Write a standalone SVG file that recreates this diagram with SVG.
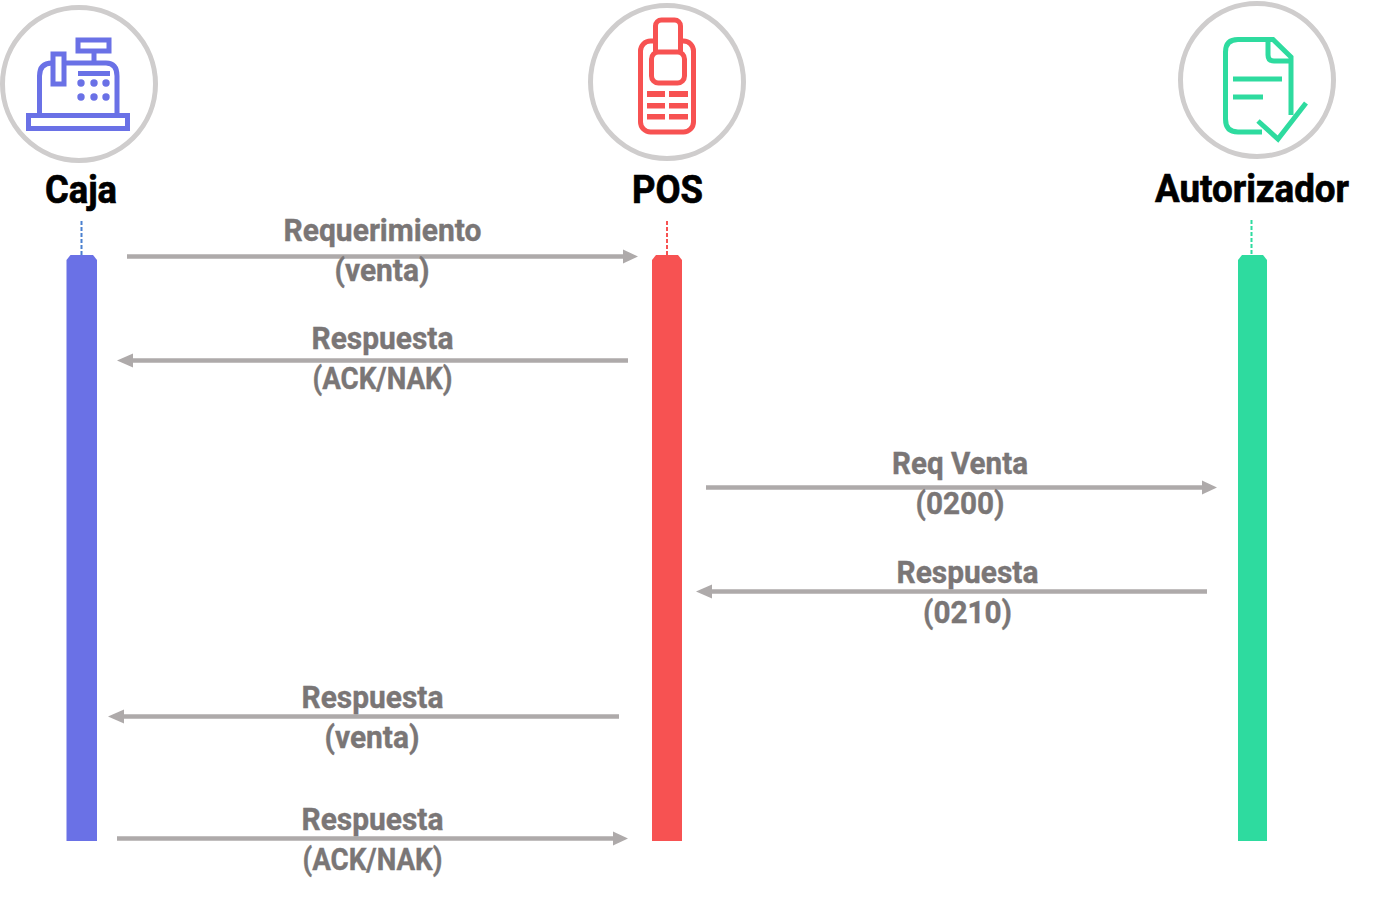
<svg xmlns="http://www.w3.org/2000/svg" width="1374" height="898" viewBox="0 0 1374 898">
<defs>
<style>
text{font-family:Roboto,"Liberation Sans",sans-serif;font-weight:700;text-anchor:middle}
.t{font-size:39px;fill:#000;stroke:#000;stroke-width:.7}
.l{font-size:32px;fill:#7a7676;stroke:#7a7676;stroke-width:.4}
.ring{fill:#fff;stroke:#cfcdcd;stroke-width:5}
.a{stroke:#aeaaaa;stroke-width:4.500;fill:none}
.h{fill:#aeaaaa}
.b{fill:none;stroke:#6a71e6;stroke-width:5}
.r{fill:none;stroke:#f75252;stroke-width:5}
.g{fill:none;stroke:#2edb9f;stroke-width:5}
</style>
</defs>
<rect width="1374" height="898" fill="#fff"/>
<g id="caja">
<circle class="ring" cx="79" cy="84" r="76.500"/>
<rect class="b" x="78" y="40" width="31" height="11"/>
<path class="b" d="M94 52V63M39.500 114V76Q39.500 63 52 63H106Q117 63 117 76V114"/>
<rect x="53" y="54" width="11" height="30" fill="#fff" stroke="#6a71e6" stroke-width="5"/>
<rect x="78" y="71" width="32" height="5" fill="#6a71e6"/>
<g fill="#6a71e6"><circle cx="81" cy="83" r="3.700"/><circle cx="94" cy="83" r="3.700"/><circle cx="106" cy="83" r="3.700"/><circle cx="81" cy="97" r="3.700"/><circle cx="94" cy="97" r="3.700"/><circle cx="106" cy="97" r="3.700"/></g>
<rect class="b" x="28.500" y="115.500" width="99" height="13"/>
<text class="t" x="81" y="203" textLength="72" lengthAdjust="spacingAndGlyphs">Caja</text>
<path d="M81.500 221V256" stroke="#4a80d0" stroke-width="2" stroke-dasharray="4 2" fill="none"/>
<path d="M66.500 841V260L70.500 255H93L97 260V841Z" fill="#6a71e6"/>
</g>
<g id="pos">
<circle class="ring" cx="667" cy="82" r="76.500"/>
<rect class="r" x="640.500" y="41" width="53" height="91" rx="10"/>
<rect x="655.500" y="20" width="25" height="50" rx="6" fill="#fff" stroke="#f75252" stroke-width="5"/>
<rect x="651.500" y="52" width="33" height="31" rx="7" fill="#fff" stroke="#f75252" stroke-width="5"/>
<g fill="#f75252"><rect x="647" y="91" width="18" height="6"/><rect x="669" y="91" width="19" height="6"/><rect x="647" y="103" width="18" height="5.500"/><rect x="669" y="103" width="19" height="5.500"/><rect x="647" y="114" width="18" height="5.500"/><rect x="669" y="114" width="19" height="5.500"/></g>
<text class="t" x="667.500" y="203" textLength="71" lengthAdjust="spacingAndGlyphs">POS</text>
<path d="M667 221V256" stroke="#f75252" stroke-width="2" stroke-dasharray="4 2" fill="none"/>
<path d="M652 841V260L656 255H678L682 260V841Z" fill="#f75252"/>
</g>
<g id="autorizador">
<circle class="ring" cx="1257" cy="80" r="76.500"/>
<path class="g" d="M1262 132H1238Q1225.500 132 1225.500 119V52Q1225.500 39.500 1238 39.500H1273L1291 57V115M1268 39.500V55Q1268 61 1274 61H1291"/>
<path class="g" d="M1233 79H1282M1233 97H1263" stroke-width="5.500"/>
<path class="g" d="M1258 121L1278 139L1306 103"/>
<text class="t" x="1252" y="202" textLength="194" lengthAdjust="spacingAndGlyphs">Autorizador</text>
<path d="M1251.500 220V256" stroke="#2edb9f" stroke-width="2" stroke-dasharray="4 2" fill="none"/>
<path d="M1238 841V260L1242 255H1263L1267 260V841Z" fill="#2edb9f"/>
</g>
<g id="connectors">
<path class="a" d="M127 256.500H624"/><path class="h" d="M638 256.500L623 249.500V263.500Z"/>
<path class="a" d="M628 360.500H131"/><path class="h" d="M117 360.500L133 353.500V367.500Z"/>
<path class="a" d="M706 487.500H1203"/><path class="h" d="M1217 487.500L1202 480.500V494.500Z"/>
<path class="a" d="M1207 591.500H710"/><path class="h" d="M696 591.500L712 584.500V598.500Z"/>
<path class="a" d="M619 716.500H122"/><path class="h" d="M108 716.500L124 709.500V723.500Z"/>
<path class="a" d="M117 838.500H614"/><path class="h" d="M628 838.500L613 831.500V845.500Z"/>
</g>
<g id="labels">
<text class="l" x="382.500" y="241" textLength="198" lengthAdjust="spacingAndGlyphs">Requerimiento</text>
<text class="l" x="382" y="281" textLength="95" lengthAdjust="spacingAndGlyphs">(venta)</text>
<text class="l" x="382.500" y="349" textLength="142" lengthAdjust="spacingAndGlyphs">Respuesta</text>
<text class="l" x="382.500" y="389" textLength="140" lengthAdjust="spacingAndGlyphs">(ACK/NAK)</text>
<text class="l" x="960" y="474" textLength="136" lengthAdjust="spacingAndGlyphs">Req Venta</text>
<text class="l" x="960" y="514" textLength="89" lengthAdjust="spacingAndGlyphs">(0200)</text>
<text class="l" x="967.500" y="583" textLength="142" lengthAdjust="spacingAndGlyphs">Respuesta</text>
<text class="l" x="967.500" y="623" textLength="89" lengthAdjust="spacingAndGlyphs">(0210)</text>
<text class="l" x="372.500" y="708" textLength="142" lengthAdjust="spacingAndGlyphs">Respuesta</text>
<text class="l" x="372" y="748" textLength="95" lengthAdjust="spacingAndGlyphs">(venta)</text>
<text class="l" x="372.500" y="829.500" textLength="142" lengthAdjust="spacingAndGlyphs">Respuesta</text>
<text class="l" x="372.500" y="869.500" textLength="140" lengthAdjust="spacingAndGlyphs">(ACK/NAK)</text>
</g>
</svg>
